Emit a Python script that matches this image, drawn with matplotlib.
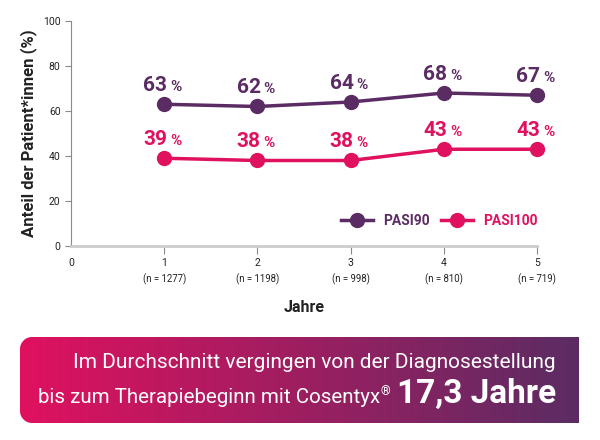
import numpy as np
import matplotlib
matplotlib.use("Agg")
import matplotlib.pyplot as plt
from matplotlib.path import Path
from matplotlib.patches import PathPatch

plt.rcParams['font.family'] = ['Roboto', 'DejaVu Sans']

# -----------------------------
# Data
# -----------------------------
years = [1, 2, 3, 4, 5]
n_labels = ["(n = 1277)", "(n = 1198)", "(n = 998)", "(n = 810)", "(n = 719)"]
pasi90 = [63, 62, 64, 68, 67]
pasi100 = [39, 38, 38, 43, 43]
y_ticks = [0, 20, 40, 60, 80, 100]

PURPLE = "#5b2c63"
PINK = "#e0115f"
GREY = "#8a8a8a"

fig = plt.figure(figsize=(6, 4.4), dpi=100)
ax = fig.add_axes([71 / 600, 1 - 246 / 440, 466 / 600, 225 / 440])

# -----------------------------
# Lines
# -----------------------------
for vals, color, name in [(pasi90, PURPLE, "PASI90"), (pasi100, PINK, "PASI100")]:
    ax.plot(years, vals, color=color, lw=2.5, marker="o", markersize=10,
            label=name, clip_on=False, zorder=3)
    for x, v in zip(years, vals):
        ax.annotate(str(v), (x, v), xytext=(2.3, 9.4), textcoords="offset points",
                    ha="right", va="baseline", fontsize=15, fontweight="bold",
                    color=color)
        ax.annotate("%", (x, v), xytext=(4.3, 9.4), textcoords="offset points",
                    ha="left", va="baseline", fontsize=11, fontweight="bold",
                    color=color)

ax.set_xlim(0, 5)
ax.set_ylim(0, 100)
ax.set_yticks(y_ticks)
ax.set_xticks([0] + years)
ax.set_xticklabels(["0"] + [str(y) for y in years])
ax.tick_params(axis="y", colors=GREY, labelcolor="#222222", labelsize=7.5, length=4, width=0.8)
ax.tick_params(axis="x", colors=GREY, labelcolor="#222222", labelsize=7.5, length=6,
               width=0.8, pad=3)
ax.xaxis.get_major_ticks()[0].tick1line.set_visible(False)

for x, lab in zip(years, n_labels):
    ax.annotate(lab, (x, 0), xycoords=("data", "axes fraction"), xytext=(0, -24),
                textcoords="offset points", ha="center", va="center",
                fontsize=6.9, color="#222222")

for s in ["top", "right"]:
    ax.spines[s].set_visible(False)
ax.spines["left"].set_color(GREY)
ax.spines["left"].set_linewidth(0.8)
ax.spines["bottom"].set_color("#cccccc")
ax.spines["bottom"].set_linewidth(2)

ax.set_ylabel("Anteil der Patient*innen (%)", fontsize=12, fontweight="bold",
              color="#222222", labelpad=4)
ax.set_xlabel("Jahre", fontsize=11.5, fontweight="bold", color="#222222", labelpad=23)

leg = ax.legend(loc="center right", bbox_to_anchor=(1.013, 0.11), frameon=False,
                ncol=2, handlelength=2.3, columnspacing=0.85, handletextpad=0.7,
                borderaxespad=0, labelcolor="linecolor",
                prop={"weight": "bold", "size": 10})

# -----------------------------
# Banner
# -----------------------------
bw, bh, r = 559, 86, 12
bax = fig.add_axes([20 / 600, 1 - 423 / 440, bw / 600, bh / 440])
bax.set_xlim(0, bw)
bax.set_ylim(0, bh)
bax.axis("off")

t = np.linspace(0, np.pi / 2, 12)
verts = [(bw, 0), (bw, bh), (r, bh)]
verts += [(r - r * np.sin(a), bh - r + r * np.cos(a)) for a in t]
verts += [(r - r * np.cos(a), r - r * np.sin(a)) for a in t]
verts += [(bw, 0)]
codes = [Path.MOVETO] + [Path.LINETO] * (len(verts) - 2) + [Path.CLOSEPOLY]
clip = PathPatch(Path(verts, codes), facecolor="none", edgecolor="none")
bax.add_patch(clip)

c0 = np.array(matplotlib.colors.to_rgb(PINK))
c1 = np.array(matplotlib.colors.to_rgb(PURPLE))
grad = np.linspace(0, 1, 256)[None, :, None]
img = c0 + (c1 - c0) * grad
im = bax.imshow(img, extent=[0, bw, 0, bh], aspect="auto", zorder=1)
im.set_clip_path(clip)

bax.text(536, 60, "Im Durchschnitt vergingen von der Diagnosestellung", ha="right",
         va="center", fontsize=15, color="white")
big = bax.text(536, 20, "17,3 Jahre", ha="right", va="baseline", fontsize=24,
               fontweight="bold", color="white")

# place second line left of the big number
renderer = fig.canvas.get_renderer()
bb = big.get_window_extent(renderer).transformed(bax.transData.inverted())
reg = bax.text(bb.x0 - 7, 28, "®", ha="right", va="baseline", fontsize=9, color="white")
rb = reg.get_window_extent(renderer).transformed(bax.transData.inverted())
bax.text(rb.x0 - 0.3, 20, "bis zum Therapiebeginn mit Cosentyx", ha="right",
         va="baseline", fontsize=14.8, color="white")

fig.savefig("out.png", dpi=100)
